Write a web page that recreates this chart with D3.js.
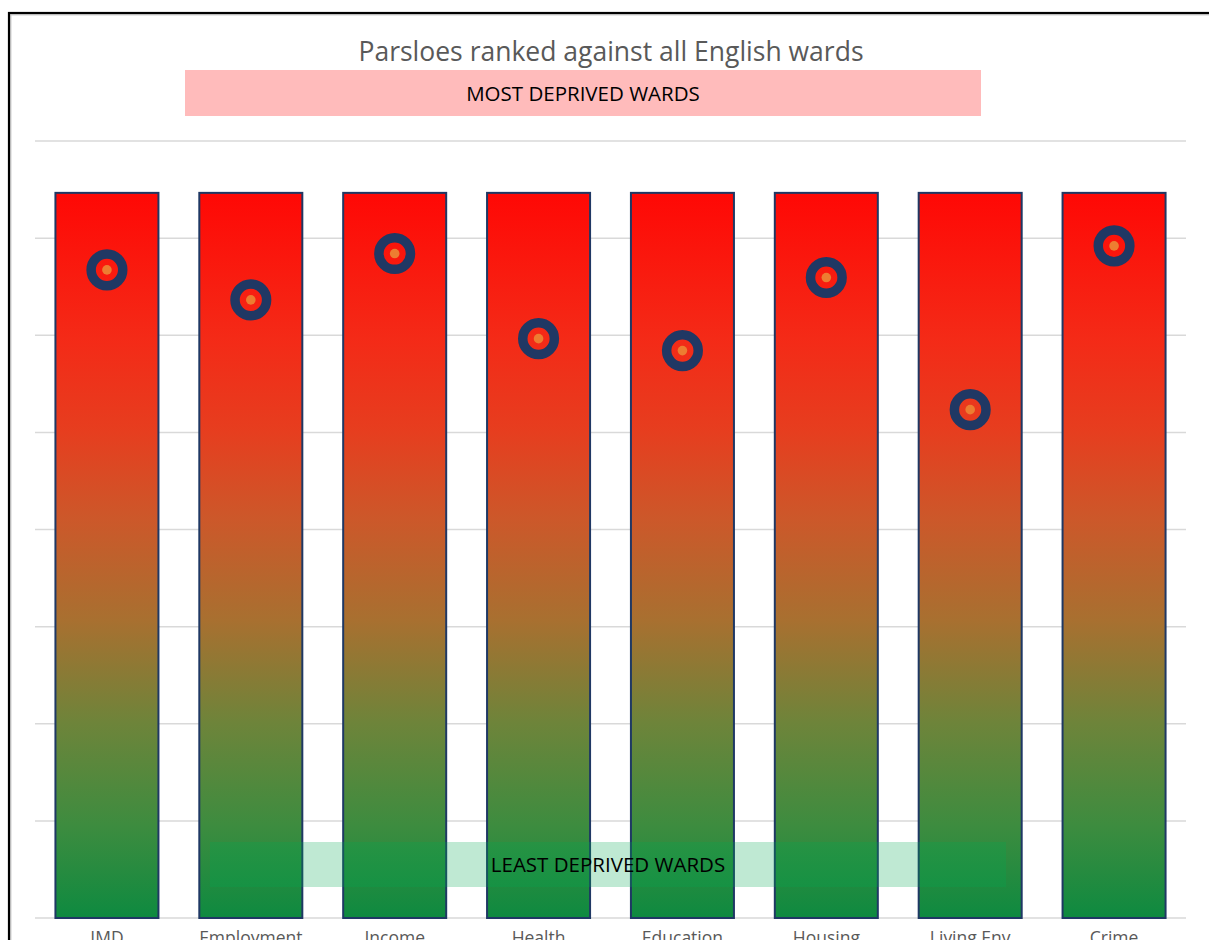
<!DOCTYPE html>
<html>
<head>
<meta charset="utf-8">
<script src="https://cdnjs.cloudflare.com/ajax/libs/d3/7.8.5/d3.min.js"></script>
<style>
  body { margin: 0; background: #fff; overflow: hidden; }
  svg { display: block; }
</style>
</head>
<body>
<div id="chart"></div>
<script>
//Data (rank position on a 0-8000 ward scale)
var categories = ["IMD", "Employment", "Income", "Health", "Education", "Housing", "Living Env", "Crime"]
var totalWards = [7466, 7466, 7466, 7466, 7466, 7466, 7466, 7466]
var wardRank = [6673, 6364, 6841, 5965, 5842, 6594, 5234, 6920]
var gridTicks = [0, 1000, 2000, 3000, 4000, 5000, 6000, 7000, 8000]

var data = []
categories.forEach(function(c, i){
  data.push([c, totalWards[i], wardRank[i]])
})

//Canvas
const w = 1209;
const h = 940;

const svg = d3.select("#chart")
              .append("svg")
              .attr("width", w)
              .attr("height", h);

//Red to green fill for the bars
var defs = svg.append("defs")
var grad = defs.append("linearGradient")
               .attr("id", "redgreen")
               .attr("x1", 0).attr("y1", 0)
               .attr("x2", 0).attr("y2", 1)
var stops = [[0, "#ff0805"], [0.2, "#f42a17"], [0.33, "#e63e1f"], [0.45, "#cc582a"], [0.59, "#a87030"], [0.73, "#6e843a"], [0.87, "#3e8c3f"], [1, "#0e8a40"]]
stops.forEach(function(s){
  grad.append("stop").attr("offset", s[0]).attr("stop-color", s[1])
})

//Scales
const xScale = d3.scaleBand()
                 .domain(categories)
                 .range([35, 1186])
                 .paddingInner(0.284)
                 .paddingOuter(0.142)

const yScale = d3.scaleLinear()
                 .domain([0, 8000])
                 .range([918, 141])

//Frame round the chart
svg.append("rect")
   .attr("x", 10.5).attr("y", 14.5)
   .attr("width", 1300).attr("height", 1000)
   .attr("fill", "none")
   .attr("stroke", "#d0d0d0")
   .attr("stroke-width", 2)
svg.append("rect")
   .attr("x", 9).attr("y", 13)
   .attr("width", 1300).attr("height", 1000)
   .attr("fill", "none")
   .attr("stroke", "#000")
   .attr("stroke-width", 2.2)

//Gridlines
svg.append("g")
   .selectAll("line")
   .data(gridTicks)
   .enter()
   .append("line")
   .attr("x1", 35)
   .attr("x2", 1186)
   .attr("y1", d => yScale(d))
   .attr("y2", d => yScale(d))
   .attr("stroke", "#d9d9d9")
   .attr("stroke-width", 1.5)

//Title
svg.append("text")
   .attr("x", 611)
   .attr("y", 61)
   .attr("text-anchor", "middle")
   .style("font-family", "'Open Sans', sans-serif")
   .style("font-size", "26.5px")
   .style("fill", "#595959")
   .text("Parsloes ranked against all English wards")

//Most deprived band
svg.append("rect")
   .attr("x", 185).attr("y", 70)
   .attr("width", 796).attr("height", 46)
   .attr("fill", "#ffbbbb")
svg.append("text")
   .attr("x", 583)
   .attr("y", 101)
   .attr("text-anchor", "middle")
   .style("font-family", "'Open Sans', sans-serif")
   .style("font-size", "20.5px")
   .style("fill", "#000")
   .text("MOST DEPRIVED WARDS")

//Bars
svg.selectAll(".bar")
   .data(data)
   .enter()
   .append("rect")
   .attr("class", "bar")
   .attr("x", d => xScale(d[0]))
   .attr("y", d => yScale(d[1]))
   .attr("width", xScale.bandwidth())
   .attr("height", d => yScale(0) - yScale(d[1]))
   .attr("fill", "url(#redgreen)")
   .attr("stroke", "#1f3864")
   .attr("stroke-width", 2)

//Markers: navy ring with an orange dot
var marks = svg.selectAll(".mark")
   .data(data)
   .enter()
   .append("g")
   .attr("class", "mark")
   .attr("transform", d => "translate(" + (xScale(d[0]) + xScale.bandwidth()/2) + "," + yScale(d[2]) + ")")
marks.append("circle")
   .attr("r", 15.8)
   .attr("fill", "none")
   .attr("stroke", "#203864")
   .attr("stroke-width", 9.5)
marks.append("circle")
   .attr("r", 4.8)
   .attr("fill", "#ed7d31")

//Least deprived band (see-through over the bars)
svg.append("rect")
   .attr("x", 210).attr("y", 842)
   .attr("width", 796).attr("height", 45)
   .attr("fill", "#00a951")
   .attr("fill-opacity", 0.25)
svg.append("text")
   .attr("x", 608)
   .attr("y", 872)
   .attr("text-anchor", "middle")
   .style("font-family", "'Open Sans', sans-serif")
   .style("font-size", "20.5px")
   .style("fill", "#000")
   .text("LEAST DEPRIVED WARDS")

//Category labels (cut off by the bottom edge, as in the source)
svg.append("g")
   .selectAll("text")
   .data(categories)
   .enter()
   .append("text")
   .attr("x", d => xScale(d) + xScale.bandwidth()/2)
   .attr("y", 944)
   .attr("text-anchor", "middle")
   .style("font-family", "'Open Sans', sans-serif")
   .style("font-size", "17.5px")
   .style("fill", "#595959")
   .text(d => d)
</script>
</body>
</html>
